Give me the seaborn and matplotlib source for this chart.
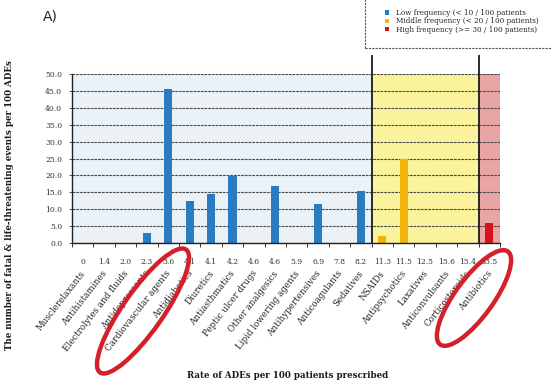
import numpy as np
import pandas as pd
import matplotlib
matplotlib.use("Agg")
import matplotlib.pyplot as plt
import seaborn as sns
from matplotlib.patches import Ellipse, Rectangle

# ---------------- data ----------------
categories = [
    "Musclerelaxants", "Antihistamines", "Electrolytes and fluids", "Antidepressants",
    "Cardiovascular agents", "Antidiabetics", "Diuretics", "Antiasthmatics",
    "Peptic ulcer drugs", "Other analgesics", "Lipid lowering agents", "Antihypertensives",
    "Anticoagulants", "Sedatives", "NSAIDs", "Antipsychotics", "Laxatives",
    "Anticonvulsants", "Corticosteroids", "Antibiotics",
]
rates = ["0", "1.4", "2.0", "2.3", "3.6", "4.1", "4.1", "4.2", "4.6", "4.6",
         "5.9", "6.9", "7.8", "8.2", "11.3", "11.5", "12.5", "15.6", "15.4", "33.5"]
values = [0.0, 0.0, 0.0, 3.0, 45.5, 12.5, 14.4, 19.8, 0.0, 16.8,
          0.0, 11.4, 0.0, 15.3, 2.0, 25.0, 0.0, 0.0, 0.0, 5.9]
group_names = ["Low frequency (< 10 / 100 patients",
               "Middle frequency (< 20 / 100 patients)",
               "High frequency (>= 30 / 100 patients)"]
groups = [group_names[0]] * 14 + [group_names[1]] * 5 + [group_names[2]] * 1
bar_colors = ["#2b7bc0", "#f0b50a", "#d5121e"]
band_colors = ["#eaf1f7", "#faf39b", "#e9a4a4"]
yticks = [0, 5, 10, 15, 20, 25, 30, 35, 40, 45, 50]

# ---------------- style ----------------
sns.set_style("white")
plt.rcParams["font.family"] = ["DejaVu Serif", "DejaVu Sans"]

W, H = 552, 386
fig = plt.figure(figsize=(W / 100, H / 100), dpi=100)
ax = fig.add_axes([72 / W, (H - 243) / H, 428 / W, 169 / H])

df = pd.DataFrame({"category": categories, "value": values, "group": groups})
sns.barplot(data=df, x="category", y="value", hue="group", hue_order=group_names,
            palette=dict(zip(group_names, bar_colors)), dodge=False, width=0.38,
            saturation=1, ax=ax, zorder=3, linewidth=0, edgecolor="none")

ax.set_xlim(-0.5, len(categories) - 0.5)
ax.set_ylim(0, 50)

# background bands per frequency group and separators
idx = np.arange(len(categories))
g_arr = np.array(groups)
for gname, bc in zip(group_names, band_colors):
    sel = idx[g_arr == gname]
    ax.axvspan(sel.min() - 0.5, sel.max() + 0.5, color=bc, zorder=0, lw=0)
for gname in group_names[:-1]:
    sel = idx[g_arr == gname]
    ax.vlines(sel.max() + 0.5, 0, 55.6, color="#1a1a1a", lw=1.3, clip_on=False, zorder=5)

# grid
ax.set_yticks(yticks)
ax.set_yticklabels([f"{v:.1f}" for v in yticks])
ax.grid(axis="y", color="#4a4a4a", lw=0.8, ls=(0, (2.5, 0.8)), zorder=1)
ax.set_axisbelow(False)
for gl in ax.get_ygridlines():
    gl.set_zorder(1)

for s in ["top", "right"]:
    ax.spines[s].set_visible(False)
for s in ["left", "bottom"]:
    ax.spines[s].set_color("#222222")
    ax.spines[s].set_linewidth(1.0)
    ax.spines[s].set_zorder(6)

ax.tick_params(axis="y", length=2, width=0.6, pad=5, labelsize=5.5, labelcolor="#333333",
               left=True, color="#333333")
ax.set_xticks(idx)
ax.set_xticklabels(rates)
ax.tick_params(axis="x", which="major", length=0, pad=11, labelsize=5.5, labelcolor="#333333")
ax.set_xticks(np.arange(len(categories) + 1) - 0.5, minor=True)
ax.tick_params(axis="x", which="minor", length=3, width=0.7, color="#333333", bottom=True)
ax.set_xlabel("")
ax.set_ylabel("")

# category names (second row of x labels)
for i, name in enumerate(categories):
    ax.text(i + 0.05, -0.17, name, transform=ax.get_xaxis_transform(), rotation=52,
            rotation_mode="anchor", ha="right", va="center", fontsize=6.3, color="#222222")

# axis titles
fig.text(10 / W, 1 - 205 / H, "The number of fatal & life-threatening events per 100 ADEs",
         rotation=90, ha="center", va="center", fontsize=6.2, fontweight="bold", color="#1a1a1a")
fig.text(288 / W, 1 - 376 / H, "Rate of ADEs per 100 patients prescribed",
         ha="center", va="center", fontsize=6.2, fontweight="bold", color="#1a1a1a")
fig.text(43 / W, 1 - 17 / H, "A)", ha="left", va="center", fontsize=10,
         family="DejaVu Sans", color="#222222")

# legend
sns.move_legend(ax, "upper left", bbox_to_anchor=(380 / W, 1 - 4 / H),
                bbox_transform=fig.transFigure, frameon=False, title=None,
                fontsize=5.2, handlelength=0.55, handleheight=0.55,
                labelspacing=0.05, handletextpad=0.9, borderpad=0.2)
fig.patches.append(Rectangle((365 / W, 1 - 48 / H), 0.5, 0.5, transform=fig.transFigure,
                             fill=False, ls=(0, (2, 1)), lw=0.8, ec="#555555"))

# hand-drawn red circles from the reference
for cx, cy, L, S, ang in [(143, 311, 150, 40, 55), (474, 298, 115, 38, 54)]:
    fig.patches.append(Ellipse((cx / 100, (H - cy) / 100), L / 100, S / 100, angle=ang,
                               transform=fig.dpi_scale_trans, fill=False,
                               ec="#d42028", lw=3.2, zorder=10))

fig.savefig("out.png", dpi=100)
